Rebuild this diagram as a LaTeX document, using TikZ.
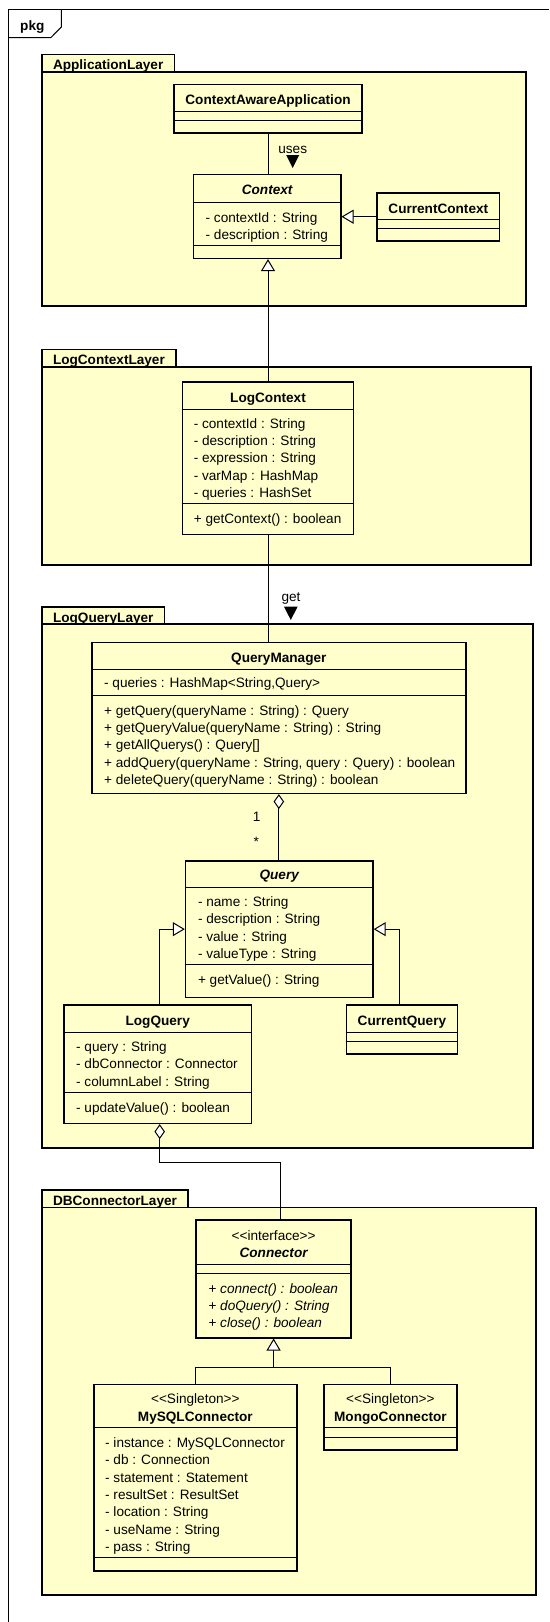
\documentclass[tikz,border=0pt]{standalone}
\usepackage{fontspec}
\setmainfont{Liberation Sans}[Ligatures=TeXOff]
\usetikzlibrary{shapes, arrows, arrows.meta}
\definecolor{umlyellow}{RGB}{255,255,204}
\newcommand{\umlsize}{\fontsize{13.6}{17.3}\selectfont}
\tikzstyle{layerbody} = [rectangle, draw, line width=1.6pt, fill=umlyellow, inner sep=0pt, outer sep=0pt, anchor=north west]
\tikzstyle{layertab} = [rectangle, draw, line width=1.6pt, fill=umlyellow, font=\umlsize\bfseries, inner xsep=11pt, inner ysep=0pt, outer sep=0pt, text height=15.5pt, text depth=1.8pt, anchor=south west]
\tikzstyle{block} = [rectangle, draw, line width=1.6pt, fill=umlyellow, inner sep=0pt]
\tikzstyle{cname} = [font=\umlsize\bfseries, anchor=base, inner sep=0pt]
\tikzstyle{cnamei} = [font=\umlsize\bfseries\itshape, anchor=base, inner sep=0pt]
\tikzstyle{stereo} = [font=\umlsize, anchor=base, inner sep=0pt]
\tikzstyle{members} = [font=\umlsize, align=left, anchor=north west, inner sep=0pt]
\tikzstyle{lbl} = [font=\umlsize, anchor=base, inner sep=0pt]
\tikzstyle{compsep} = [draw, line width=1pt]
\tikzstyle{line} = [draw, line width=1pt]
\tikzstyle{inherit} = [draw, line width=1pt, -{Triangle[length=12pt, width=14pt, fill=white]}]
\tikzstyle{aggr} = [draw, line width=1pt, {Diamond[length=15pt, width=10.5pt, fill=white]}-]

\begin{document}
\begin{tikzpicture}[x=1pt, y=-1pt]
	\useasboundingbox (0,0) rectangle (549,1622);
	
	% Frame
	\draw [line width=1pt] (549,9) -- (8,9) -- (8,1622);
	\draw [line width=1pt] (8,37.7) -- (50.8,37.7) -- (61.3,27) -- (61.3,9);
	\node [lbl, font=\umlsize\bfseries, anchor=base west] (pkg) at (20,30) {pkg};
	
	% Place layers
	\node [layertab] (App Tab) at (42,71.7) {ApplicationLayer};
	\node [layerbody, minimum width=484pt, minimum height=234.3pt] (App Layer) at (42,71.7) {};
	\node [layertab] (LogContext Tab) at (42,366.7) {LogContextLayer};
	\node [layerbody, minimum width=489pt, minimum height=198.3pt] (LogContext Layer) at (42,366.7) {};
	\node [layertab] (LogQuery Tab) at (42,624) {LogQueryLayer};
	\node [layerbody, minimum width=491pt, minimum height=523.7pt] (LogQuery Layer) at (42,624) {};
	\node [layertab] (DB Tab) at (42,1207.3) {DBConnectorLayer};
	\node [layerbody, minimum width=494pt, minimum height=387.7pt] (DB Layer) at (42,1207.3) {};
	
	% Place classes
	\node [block, minimum width=188pt, minimum height=48.4pt] (Context Aware App) at (268,108.5) {};
	\node [cname] (Context Aware App title) at (268,104.5) {ContextAwareApplication};
	
	\node [block, minimum width=147.1pt, minimum height=84pt] (Context) at (267.15,216.3) {};
	\node [cnamei] (Context title) at (267.15,194.5) {Context};
	\node [members] (Context attrs) at (205.5,212.6) {- contextId : String\\- description : String};
	
	\node [block, minimum width=122.6pt, minimum height=48pt] (Current Context) at (438.3,216.7) {};
	\node [cname] (Current Context title) at (438.3,213.1) {CurrentContext};
	
	\node [block, minimum width=171.2pt, minimum height=152.3pt] (Log Context) at (268,458.15) {};
	\node [cname] (Log Context title) at (268,402.5) {LogContext};
	\node [members] (Log Context attrs) at (193.6,418.2) {- contextId : String\\- description : String\\- expression : String\\- varMap : HashMap\\- queries : HashSet};
	\node [members] (Log Context ops) at (193.6,513.6) {+ getContext() : boolean};
	
	\node [block, minimum width=373.7pt, minimum height=151pt] (Query Manager) at (278.85,717.8) {};
	\node [cname] (Query Manager title) at (278.85,662.5) {QueryManager};
	\node [members] (Query Manager attrs) at (104,677.9) {- queries : HashMap<String,Query>};
	\node [members] (Query Manager ops) at (104,705.2) {+ getQuery(queryName : String) : Query\\+ getQueryValue(queryName : String) : String\\+ getAllQuerys() : Query[]\\+ addQuery(queryName : String, query : Query) : boolean\\+ deleteQuery(queryName : String) : boolean};
	
	\node [block, minimum width=187.3pt, minimum height=136.3pt] (Query) at (279.25,929.15) {};
	\node [cnamei] (Query title) at (279.25,879.8) {Query};
	\node [members] (Query attrs) at (197.8,896.6) {- name : String\\- description : String\\- value : String\\- valueType : String};
	\node [members] (Query ops) at (197.8,974.2) {+ getValue() : String};
	
	\node [block, minimum width=187.4pt, minimum height=118.3pt] (Log Query) at (157.7,1064.15) {};
	\node [cname] (Log Query title) at (157.7,1025.5) {LogQuery};
	\node [members] (Log Query attrs) at (76,1041.6) {- query : String\\- dbConnector : Connector\\- columnLabel : String};
	\node [members] (Log Query ops) at (76,1102.6) {- updateValue() : boolean};
	
	\node [block, minimum width=111.3pt, minimum height=48.7pt] (Current Query) at (401.95,1029.35) {};
	\node [cname] (Current Query title) at (401.95,1025.5) {CurrentQuery};
	
	\node [block, minimum width=155.2pt, minimum height=117.7pt] (Connector) at (273.6,1278.85) {};
	\node [stereo] (Connector stereo) at (273.6,1240.1) {<<interface>>};
	\node [cnamei] (Connector title) at (273.6,1257.5) {Connector};
	\node [members] (Connector ops) at (208.3,1283.2) {+ \textit{connect() : boolean}\\+ \textit{doQuery() : String}\\+ \textit{close() : boolean}};
	
	\node [block, minimum width=203.1pt, minimum height=186.4pt] (MySQL Connector) at (195.35,1477.5) {};
	\node [stereo] (MySQL Connector stereo) at (195.35,1403.8) {<<Singleton>>};
	\node [cname] (MySQL Connector title) at (195.35,1421.1) {MySQLConnector};
	\node [members] (MySQL Connector attrs) at (105,1437.6) {- instance : MySQLConnector\\- db : Connection\\- statement : Statement\\- resultSet : ResultSet\\- location : String\\- useName : String\\- pass : String};
	
	\node [block, minimum width=133pt, minimum height=65.7pt] (Mongo Connector) at (390.4,1417.15) {};
	\node [stereo] (Mongo Connector stereo) at (390.4,1403.8) {<<Singleton>>};
	\node [cname] (Mongo Connector title) at (390.4,1421.1) {MongoConnector};
	
	% Compartment lines
	\draw [compsep] ([yshift=-27.5pt]Context Aware App.north west) -- ([yshift=-27.5pt]Context Aware App.north east);
	\draw [compsep] ([yshift=-37.2pt]Context Aware App.north west) -- ([yshift=-37.2pt]Context Aware App.north east);
	\draw [compsep] ([yshift=-28.5pt]Context.north west) -- ([yshift=-28.5pt]Context.north east);
	\draw [compsep] ([yshift=-72.2pt]Context.north west) -- ([yshift=-72.2pt]Context.north east);
	\draw [compsep] ([yshift=-27.4pt]Current Context.north west) -- ([yshift=-27.4pt]Current Context.north east);
	\draw [compsep] ([yshift=-36.8pt]Current Context.north west) -- ([yshift=-36.8pt]Current Context.north east);
	\draw [compsep] ([yshift=-27.8pt]Log Context.north west) -- ([yshift=-27.8pt]Log Context.north east);
	\draw [compsep] ([yshift=-122.1pt]Log Context.north west) -- ([yshift=-122.1pt]Log Context.north east);
	\draw [compsep] ([yshift=-28.2pt]Query Manager.north west) -- ([yshift=-28.2pt]Query Manager.north east);
	\draw [compsep] ([yshift=-53.8pt]Query Manager.north west) -- ([yshift=-53.8pt]Query Manager.north east);
	\draw [compsep] ([yshift=-27.1pt]Query.north west) -- ([yshift=-27.1pt]Query.north east);
	\draw [compsep] ([yshift=-104.1pt]Query.north west) -- ([yshift=-104.1pt]Query.north east);
	\draw [compsep] ([yshift=-27.8pt]Log Query.north west) -- ([yshift=-27.8pt]Log Query.north east);
	\draw [compsep] ([yshift=-88.1pt]Log Query.north west) -- ([yshift=-88.1pt]Log Query.north east);
	\draw [compsep] ([yshift=-27.8pt]Current Query.north west) -- ([yshift=-27.8pt]Current Query.north east);
	\draw [compsep] ([yshift=-36.8pt]Current Query.north west) -- ([yshift=-36.8pt]Current Query.north east);
	\draw [compsep] ([yshift=-45.1pt]Connector.north west) -- ([yshift=-45.1pt]Connector.north east);
	\draw [compsep] ([yshift=-54.1pt]Connector.north west) -- ([yshift=-54.1pt]Connector.north east);
	\draw [compsep] ([yshift=-44.2pt]MySQL Connector.north west) -- ([yshift=-44.2pt]MySQL Connector.north east);
	\draw [compsep] ([yshift=-174.2pt]MySQL Connector.north west) -- ([yshift=-174.2pt]MySQL Connector.north east);
	\draw [compsep] ([yshift=-44.2pt]Mongo Connector.north west) -- ([yshift=-44.2pt]Mongo Connector.north east);
	\draw [compsep] ([yshift=-53.5pt]Mongo Connector.north west) -- ([yshift=-53.5pt]Mongo Connector.north east);
	
	% Draw edges
	\coordinate (db joint) at (280.8,1162.7);
	\coordinate (gen joint) at (273.6,1367.7);
	\path [line] (Context Aware App.south) -- (Context Aware App.south |- Context.north);
	\path [inherit] (Current Context.west) -- (Current Context.west -| Context.east);
	\path [inherit] (Log Context.north) -- (Log Context.north |- Context.south);
	\path [line] (Log Context.south) -- (Log Context.south |- Query Manager.north);
	\path [aggr] (Query Manager.south) -- (Query Manager.south |- Query.north);
	\path [inherit] ([xshift=2pt]Log Query.north) |- (Query.west);
	\path [inherit] ([xshift=-2.75pt]Current Query.north) |- (Query.east);
	\path [aggr] ([xshift=2pt]Log Query.south) |- (db joint) -- (db joint |- Connector.north);
	\path [line] (MySQL Connector.north) |- (gen joint);
	\path [line] (Mongo Connector.north) |- (gen joint);
	\path [inherit] (gen joint) -- (Connector.south);
	
	% Edge labels
	\node [lbl] (uses) at (292.7,153) {uses};
	\fill (286.2,155) -- (299.2,155) -- (292.7,168) -- cycle;
	\node [lbl] (get) at (291,601.5) {get};
	\fill (284,606.7) -- (297.6,606.7) -- (290.8,620) -- cycle;
	\node [lbl] (mult one) at (256.7,821.5) {1};
	\node [lbl] (mult many) at (256.3,846.5) {*};
	
\end{tikzpicture}
\end{document}
